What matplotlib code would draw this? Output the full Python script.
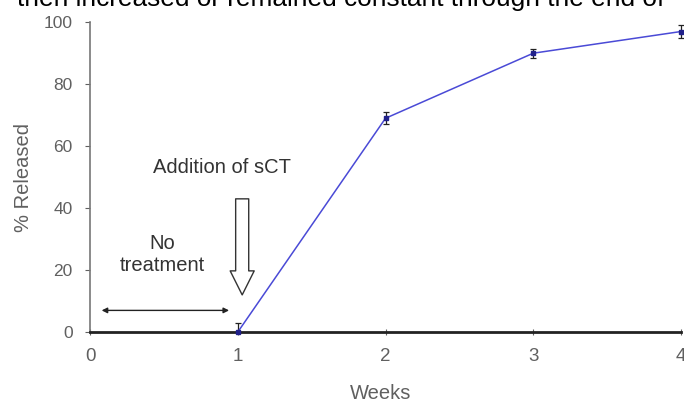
import matplotlib
matplotlib.use("Agg")
import matplotlib.pyplot as plt
from matplotlib.patches import ArrowStyle

plt.rcParams['font.family'] = ['Liberation Sans', 'DejaVu Sans']

weeks = [1, 2, 3, 4]
released = [0, 69, 90, 97]
err_low = [0, 2, 1.5, 2]
err_high = [3, 2, 1.5, 2]
x_ticks = [0, 1, 2, 3, 4]
y_ticks = [0, 20, 40, 60, 80, 100]

grey = '#606060'

fig = plt.figure(figsize=(6.84, 4.04), dpi=100)
ax = fig.add_axes([0.1316, 0.178, 0.8640, 0.767])

ax.errorbar(weeks, released, yerr=[err_low, err_high], color='#4a4ad6', lw=1.1,
            marker='s', ms=2.5, mfc='#20208a', mec='#20208a',
            ecolor='#222222', elinewidth=0.9, capsize=2.5, capthick=0.9,
            clip_on=False, zorder=3)

ax.set_xlim(0, 4)
ax.set_ylim(0, 100)
ax.set_xticks(x_ticks)
ax.set_yticks(y_ticks)
ax.tick_params(axis='both', colors=grey, labelcolor=grey)
ax.tick_params(axis='x', direction='inout', length=5, pad=9, labelsize=13.5)
ax.tick_params(axis='y', direction='out', length=3.6, pad=9, labelsize=12.5)

for side in ['top', 'right']:
    ax.spines[side].set_visible(False)
ax.spines['left'].set_color('#777777')
ax.spines['left'].set_linewidth(1.2)
ax.spines['bottom'].set_color('#222222')
ax.spines['bottom'].set_linewidth(2)

ax.set_xlabel('Weeks', color=grey, fontsize=14.5)
ax.xaxis.label.set_va('baseline')
ax.xaxis.set_label_coords(0.492, -0.216)
ax.set_ylabel('% Released', color=grey, fontsize=14.5)
ax.yaxis.label.set_va('center')
ax.yaxis.set_label_coords(-0.112, 0.5)

# Annotations for the treatment phases
ax.annotate('', xy=(0.06, 7), xytext=(0.96, 7),
            arrowprops=dict(arrowstyle='<|-|>', color='#222222', lw=1,
                            mutation_scale=8))
ax.text(0.49, 25, 'No\ntreatment', ha='center', va='center',
        fontsize=14.5, color='#333333', linespacing=1.25)
ax.text(0.89, 53, 'Addition of sCT', ha='center', va='center',
        fontsize=14.5, color='#333333')
hollow = ArrowStyle.Simple(head_length=1.73, head_width=1.73, tail_width=0.94)
ax.annotate('', xy=(1.03, 12), xytext=(1.03, 43),
            arrowprops=dict(arrowstyle=hollow, mutation_scale=10,
                            fc='white', ec='#333333', lw=1.0,
                            shrinkA=0, shrinkB=0), zorder=4)

fig.text(0.025, 0.986, 'then increased or remained constant through the end of',
         fontsize=18.9, color='black', va='baseline', ha='left')

fig.savefig('out.png', dpi=100)
